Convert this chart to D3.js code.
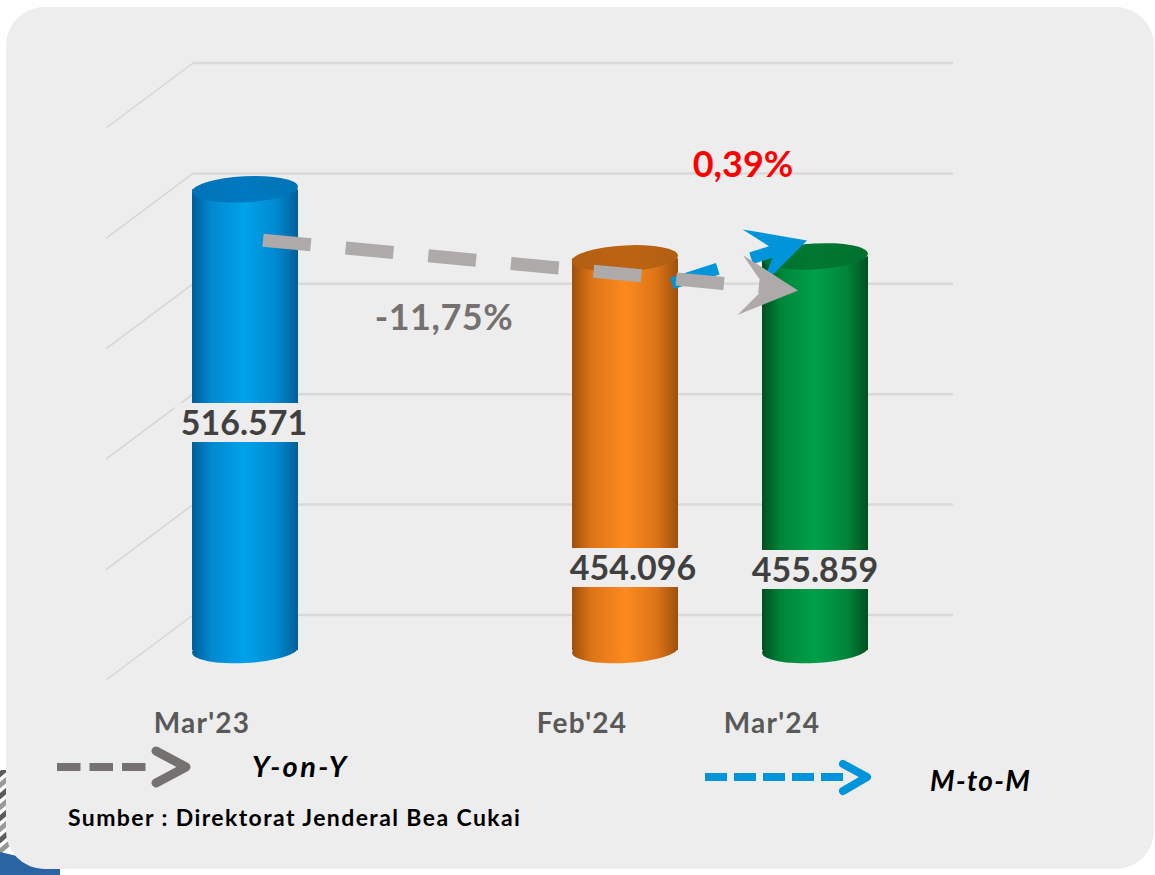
<!DOCTYPE html>
<html><head><meta charset="utf-8">
<script src="https://cdn.jsdelivr.net/npm/d3@7"></script>
<style>
body{margin:0;background:#fff}
svg{display:block}
text{font-family:Lato,"Open Sans",sans-serif}
</style>
</head><body>
<svg id="c" width="1155" height="875"></svg>
<script>
// ---------- data ----------
const slots = ["Mar'23", "gap", "Feb'24", "Mar'24"];
const categories = ["Mar'23", "Feb'24", "Mar'24"];
const values = [516571, 454096, 455859];
const yoyChange = -11.75;
const mtmChange = 0.39;
const gridTicks = [0, 100000, 200000, 300000, 400000, 500000];
const legendLabels = ["Y-on-Y", "M-to-M"];
const sourceText = "Sumber : Direktorat Jenderal Bea Cukai";

// ---------- styles ----------
const barStyles = [
  {edge:"#005e98", mid:"#0088cf", light:"#00a2ea", top:"#0073b6"},
  {edge:"#9e4f0b", mid:"#dc7417", light:"#fd8a1f", top:"#b25f12"},
  {edge:"#005020", mid:"#00853a", light:"#00a04a", top:"#00712e"}
];
const yoyColor = "#aeaaaa", mtmColor = "#0095da", legendGray = "#767171";

const loc = d3.formatLocale({decimal:",", thousands:".", grouping:[3], currency:["",""], minus:"-"});
const fmtInt = loc.format(",d");
const fmtPct = loc.format(".2f");

const svg = d3.select("#c");
const defs = svg.append("defs");

// decorative background at the bottom-left, outside the panel
defs.append("clipPath").attr("id","decoClip").append("rect")
  .attr("x",0).attr("y",770).attr("width",70).attr("height",105);
const deco = svg.append("g").attr("clip-path","url(#decoClip)");
d3.range(8).forEach(i=>{
  deco.append("line").attr("x1",-30).attr("y1",800+i*11).attr("x2",40).attr("y2",740+i*11)
    .attr("stroke", i%2 ? "#9a9a9a" : "#5b5b5b").attr("stroke-width",5);
});
deco.append("path").attr("d","M0,852 L60,866 L60,875 L0,875 Z").attr("fill","#2a64a3");

// panel
svg.append("rect").attr("x",6).attr("y",7).attr("width",1148).attr("height",862)
  .attr("rx",38).attr("ry",38).attr("fill","#ededed");

// ---------- scales ----------
const x = d3.scalePoint().domain(slots).range([150, 910]).padding(0.5);
const y = d3.scaleLinear().domain([100000, 600000]).range([650, 97]);
const wall = d3.scaleLinear().domain([0, 500000]).range([615, 63]);
const wallLeft = 193, wallRight = 953, depthX = -87, depthY = 65;

// back wall gridlines + side wall diagonals
const grid = svg.append("g");
grid.selectAll("line.h").data(gridTicks).join("line").attr("class","h")
  .attr("x1",wallLeft).attr("x2",wallRight)
  .attr("y1",d=>wall(d)).attr("y2",d=>wall(d))
  .attr("stroke","#d9d9d9").attr("stroke-width",2.5);
grid.selectAll("line.d").data(gridTicks).join("line").attr("class","d")
  .attr("x1",wallLeft).attr("x2",wallLeft+depthX)
  .attr("y1",d=>wall(d)).attr("y2",d=>wall(d)+depthY)
  .attr("stroke","#d6d6d6").attr("stroke-width",1.5);

// ---------- cylinders ----------
const bw = 106, ry = 13, tilt = -3;
const bars = categories.map((c,i)=>({c, v:values[i], s:barStyles[i], i}));
bars.forEach(b=>{
  const g = defs.append("linearGradient").attr("id","grad"+b.i)
    .attr("x1","0").attr("x2","1").attr("y1","0").attr("y2","0");
  [[0,b.s.edge],[0.18,b.s.mid],[0.5,b.s.light],[0.8,b.s.mid],[1,b.s.edge]].forEach(([o,col])=>
    g.append("stop").attr("offset",o).attr("stop-color",col));
  const tg = defs.append("linearGradient").attr("id","tgrad"+b.i)
    .attr("x1","0").attr("x2","1").attr("y1","0").attr("y2","0");
  [[0,b.s.top],[0.5,d3.color(b.s.top).brighter(0.15)],[1,b.s.top]].forEach(([o,col])=>
    tg.append("stop").attr("offset",o).attr("stop-color",col));
});
const cyl = svg.append("g");
bars.forEach(b=>{
  const cx = x(b.c), yt = y(b.v), yb = y.range()[0];
  const g = cyl.append("g");
  g.append("ellipse").attr("cx",cx).attr("cy",yb).attr("rx",bw/2).attr("ry",ry)
    .attr("transform",`rotate(${tilt},${cx},${yb})`).attr("fill",`url(#grad${b.i})`);
  g.append("rect").attr("x",cx-bw/2).attr("y",yt).attr("width",bw).attr("height",yb-yt)
    .attr("fill",`url(#grad${b.i})`);
  g.append("ellipse").attr("cx",cx).attr("cy",yt).attr("rx",bw/2).attr("ry",ry)
    .attr("transform",`rotate(${tilt},${cx},${yt})`).attr("fill",`url(#tgrad${b.i})`);
});

// ---------- arrows ----------
function arrow(g, p0, p1, color, w, dash){
  const ang = Math.atan2(p1[1]-p0[1], p1[0]-p0[0]);
  const notch = 33;
  const e = [p1[0]-Math.cos(ang)*notch, p1[1]-Math.sin(ang)*notch];
  g.append("line").attr("x1",p0[0]).attr("y1",p0[1]).attr("x2",e[0]).attr("y2",e[1])
    .attr("stroke",color).attr("stroke-width",w).attr("stroke-dasharray",dash);
  g.append("path").attr("d","M0,0 L-58,-30 L-33,0 L-58,30 Z")
    .attr("transform",`translate(${p1[0]},${p1[1]}) rotate(${ang*180/Math.PI})`)
    .attr("fill",color);
}
const ann = svg.append("g");
const iFeb = 1, iMar = 2, iOld = 0;
// M-to-M (blue) below Y-on-Y (gray)
arrow(ann, [x(categories[iFeb])+47, y(values[iFeb])+25], [x(categories[iMar])-8, y(values[iMar])-16], mtmColor, 12, "48 35");
arrow(ann, [x(categories[iOld])+18, y(values[iOld])+51], [x(categories[iMar])-17, y(values[iMar])+34], yoyColor, 13, "48 35");

// ---------- value labels ----------
const labelDx = [-1, 8, 0];
const labelBase = [435, 580, 582];
const lab = svg.append("g");
bars.forEach((b,i)=>{
  const t = lab.append("text").attr("x",x(b.c)+labelDx[i]).attr("y",labelBase[i])
    .attr("text-anchor","middle").attr("font-weight","bold").attr("font-size",34)
    .attr("fill","#404040").text(fmtInt(b.v));
  const bb = t.node().getBBox();
  lab.insert("rect","text").attr("x",bb.x-6).attr("y",bb.y+2).attr("width",bb.width+12).attr("height",bb.height-2)
    .attr("fill","#ededed");
});
lab.selectAll("rect").lower();

// change labels
svg.append("text").attr("x",444).attr("y",330).attr("text-anchor","middle")
  .attr("font-weight","bold").attr("font-size",36).attr("letter-spacing",0.5).attr("fill",legendGray)
  .text(fmtPct(yoyChange) + "%");
svg.append("text").attr("x",743).attr("y",177).attr("text-anchor","middle")
  .attr("font-weight","bold").attr("font-size",36).attr("fill","#ff0000")
  .text(fmtPct(mtmChange) + "%");

// ---------- category labels ----------
svg.append("g").selectAll("text").data(categories).join("text")
  .attr("x",d=>x(d)-43).attr("y",733).attr("text-anchor","middle")
  .attr("font-weight","bold").attr("font-size",28).attr("letter-spacing",1.2)
  .attr("fill","#595959").text(d=>d);

// ---------- legend ----------
const lg = svg.append("g");
lg.append("line").attr("x1",57).attr("x2",146).attr("y1",767).attr("y2",767)
  .attr("stroke",legendGray).attr("stroke-width",8).attr("stroke-dasharray","23.5 9");
lg.append("polyline").attr("points","156,751 186,767 156,783").attr("fill","none")
  .attr("stroke",legendGray).attr("stroke-width",9).attr("stroke-linecap","round").attr("stroke-linejoin","round");
lg.append("text").attr("x",252).attr("y",777).attr("font-weight","bold").attr("font-style","italic")
  .attr("font-size",29).attr("letter-spacing",2.4).attr("fill","#000").text(legendLabels[0]);

lg.append("line").attr("x1",705).attr("x2",843).attr("y1",777).attr("y2",777)
  .attr("stroke",mtmColor).attr("stroke-width",8).attr("stroke-dasharray","22 7");
lg.append("polyline").attr("points","843,764 867,777 843,791").attr("fill","none")
  .attr("stroke",mtmColor).attr("stroke-width",8).attr("stroke-linecap","round").attr("stroke-linejoin","round");
lg.append("text").attr("x",930).attr("y",791).attr("font-weight","bold").attr("font-style","italic")
  .attr("font-size",28).attr("letter-spacing",1.3).attr("fill","#000").text(legendLabels[1]);

svg.append("text").attr("x",68).attr("y",826).attr("font-weight","bold")
  .attr("font-size",23).attr("letter-spacing",1.4).attr("fill","#000").text(sourceText);
</script>
</body></html>
